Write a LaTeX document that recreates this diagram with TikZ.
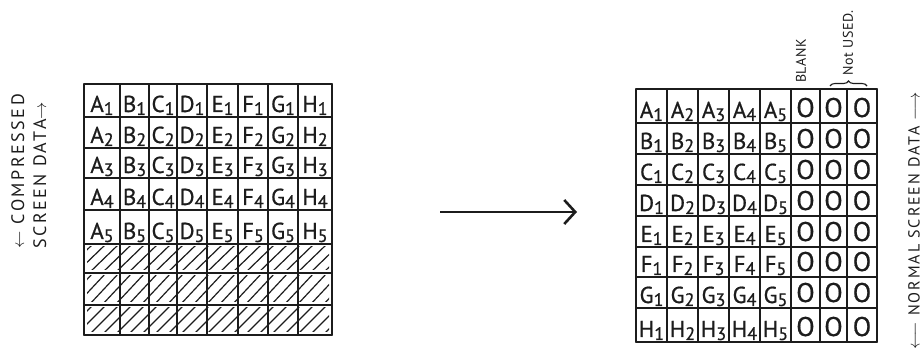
\documentclass[tikz,border=0pt]{standalone}
\usepackage{fontspec}
\setmainfont{PT Sans}
\usetikzlibrary{arrows.meta,decorations.pathreplacing}
\definecolor{ink}{RGB}{28,28,28}
% letter with a lowered, slightly smaller index digit
\newcommand\lab[2]{#1{\fontsize{18}{18}\selectfont\raisebox{-3pt}{#2}}}
\begin{document}
\begin{tikzpicture}[x=1pt,y=-1pt,
  gridline/.style={line width=1.8pt, draw=ink, line cap=round},
  hatchline/.style={line width=1.2pt, draw=ink, line cap=round},
  celltext/.style={font=\fontsize{23}{23}\selectfont\addfontfeature{FakeBold=0.7}, text=ink, inner sep=0pt, anchor=base},
  zerotext/.style={font=\fontsize{27}{27}\selectfont\addfontfeature{FakeBold=0.7}, text=ink, inner sep=0pt, anchor=base},
  sidelabel/.style={font=\fontsize{18}{22}\selectfont\addfontfeature{LetterSpace=14}, text=ink, inner sep=0pt, rotate=90},
  headlabel/.style={font=\fontsize{14}{14}\selectfont\addfontfeature{LetterSpace=4}, text=ink, inner sep=0pt, rotate=90},
  flowarrow/.style={line width=1.4pt, draw=ink, -{Straight Barb[length=11pt,width=24pt,line width=2.6pt]}}]
\useasboundingbox (0,0) rectangle (924,363);

% ---------- compressed screen data (left grid) ----------
\foreach \x in {84,120,149,177,207,238,268,298,332}
  \draw[gridline] (\x,84) -- (\x,335);
\foreach \y in {84,117,148,178,210,244,273,305,335}
  \draw[gridline] (84,\y) -- (332,\y);

\foreach \c/\xa/\xb/\L in {1/84/120/A,2/120/149/B,3/149/177/C,4/177/207/D,
                            5/207/238/E,6/238/268/F,7/268/298/G,8/298/332/H}
  \foreach \r/\yb in {1/117,2/148,3/178,4/210,5/244}
    \node[celltext] (L-\r-\c) at ({(\xa+\xb)/2},{\yb-5}) {\lab{\L}{\r}};

% unused rows, hatched
\foreach \ya/\yb in {244/273,273/305,305/335} {
  \begin{scope}
    \clip (87,{\ya+3}) rectangle (329,{\yb-3});
    \foreach \x in {50,63,...,340}
      \draw[hatchline] (\x,\yb) -- ({\x+30},\ya);
  \end{scope}
}

% side label
\node[sidelabel, align=left, anchor=north west] (cmplabel) at (11,249)
  {$\leftarrow$ COMPRESSED\\SCREEN DATA$\rightarrow$};

% ---------- conversion arrow ----------
\coordinate (arrowtail) at (440,212);
\coordinate (arrowhead) at (577,212);
\draw[flowarrow] (arrowtail) -- (arrowhead);

% ---------- normal screen data (right grid) ----------
\foreach \x in {636,667,698,729,760,791,820,847,877}
  \draw[gridline] (\x,89) -- (\x,342);
\foreach \y in {89,123,154,185,216,247,277,308,342}
  \draw[gridline] (636,\y) -- (877,\y);

\foreach \R/\yb in {A/123,B/154,C/185,D/216,E/247,F/277,G/308,H/342} {
  \foreach \c/\xa/\xb in {1/636/667,2/667/698,3/698/729,4/729/760,5/760/791}
    \node[celltext] (R-\R-\c) at ({(\xa+\xb)/2},{\yb-5}) {\lab{\R}{\c}};
  \foreach \c/\xa/\xb in {6/791/820,7/820/847,8/847/877}
    \node[zerotext] (R-\R-\c) at ({(\xa+\xb)/2},{\yb-6}) {O};
}

% column headings
\node[headlabel] (blank) at (801,61) {BLANK};
\node[headlabel] (notused) at (848,43) {Not USED.};
\draw[line width=1.1pt, draw=ink, decorate, decoration={brace, amplitude=5pt}]
  (830,86) -- (867,86);

% side label
\node[sidelabel, font=\fontsize{16}{16}\selectfont\addfontfeature{LetterSpace=12}] (nrmlabel) at (914,221)
  {$\longleftarrow$ NORMAL SCREEN DATA $\longrightarrow$};
\end{tikzpicture}
\end{document}
